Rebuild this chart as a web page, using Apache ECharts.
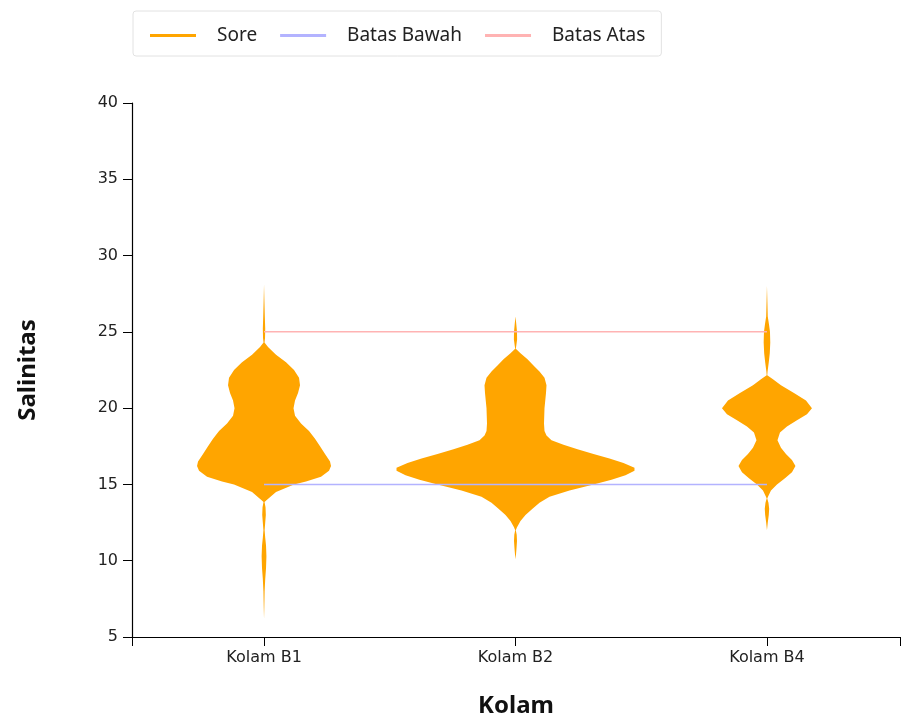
<!DOCTYPE html>
<html>
<head>
<meta charset="utf-8">
<script src="https://cdn.jsdelivr.net/npm/echarts@6/dist/echarts.min.js"></script>
<style>
  html, body { margin: 0; padding: 0; background: #fff; }
  #violin { width: 906px; height: 719px; }
</style>
</head>
<body>
<div id="violin"></div>
<script>
  'use strict'
  /*-----data-----*/
  var categories = ['Kolam B1', 'Kolam B2', 'Kolam B4'];
  var yTicks = [5, 10, 15, 20, 25, 30, 35, 40];

  // salinity levels and density (violin half-width) for each pond, "Sore"
  var b1Levels = [28.1, 27.0, 26.0, 25.2, 24.6, 24.3, 24.0, 23.5, 23.0, 22.5, 22.0, 21.5, 21.0, 20.5, 20.0, 19.5, 19.0, 18.5, 18.0, 17.5, 17.0, 16.5, 16.2, 15.9, 15.5, 15.2, 15.0, 14.5, 14.0, 13.85, 13.5, 13.0, 12.5, 12.0, 11.5, 11.0, 10.3, 9.5, 8.8, 8.0, 7.0, 6.2];
  var b1Density = [0, 0.4, 0.8, 1.2, 1.0, 0.5, 4, 12, 22, 30, 35, 36, 34, 31, 29.5, 31, 37, 45, 51, 56, 61, 66, 67, 65, 57, 42, 30, 12, 3, 0.5, 1.5, 1.8, 1.2, 0.6, 1.2, 2, 2.4, 2, 1.2, 0.6, 0.3, 0];

  var b2Levels = [26.0, 25.5, 25.0, 24.5, 24.1, 23.9, 23.6, 23.2, 22.8, 22.4, 22.0, 21.5, 21.0, 20.0, 19.0, 18.5, 18.2, 17.9, 17.6, 17.3, 17.0, 16.7, 16.4, 16.1, 15.9, 15.6, 15.3, 15.0, 14.6, 14.2, 13.8, 13.4, 13.0, 12.6, 12.2, 12.0, 11.7, 11.3, 10.8, 10.4, 10.1];
  var b2Density = [0, 0.8, 1.5, 1.6, 0.8, 0.3, 5, 12, 18, 24, 29, 31, 30.5, 29, 28.5, 29, 31, 36, 48, 62, 78, 94, 108, 119, 119, 110, 96, 78, 54, 34, 24, 17, 10, 5, 1.5, 0.3, 1.2, 1.5, 1.0, 0.5, 0];

  var b4Levels = [28.0, 27.0, 26.0, 25.5, 25.0, 24.3, 23.6, 23.0, 22.4, 22.15, 21.9, 21.5, 21.0, 20.5, 20.0, 19.6, 19.2, 18.8, 18.4, 17.9, 17.4, 17.0, 16.6, 16.2, 15.8, 15.4, 15.0, 14.6, 14.2, 14.08, 13.8, 13.4, 13.0, 12.5, 12.0];
  var b4Density = [0, 0.4, 0.8, 2, 3, 3.3, 2.8, 1.8, 0.6, 0.3, 6, 14, 27, 39, 45, 40, 30, 20, 13, 10.5, 14, 19, 25, 28.5, 25, 18, 10, 4, 1, 0.3, 1.5, 2.2, 1.8, 0.8, 0];

  var batasBawah = [15, 15];
  var batasAtas = [25, 25];

  var levels = [b1Levels, b2Levels, b4Levels];
  var density = [b1Density, b2Density, b4Density];
  var densityScale = 1 / 251.5; // density -> category units

  /*-----violin-----*/
  function renderViolin(params, api) {
    var idx = api.value(0);
    var ys = levels[idx];
    var ds = density[idx];
    var pts = [];
    for (var i = 0; i < ys.length; i++) {
      pts.push(api.coord([idx - ds[i] * densityScale, ys[i]]));
    }
    for (var j = ys.length - 1; j >= 0; j--) {
      pts.push(api.coord([idx + ds[j] * densityScale, ys[j]]));
    }
    return {
      type: 'polygon',
      shape: { points: pts },
      style: { fill: '#FFA500' }
    };
  }

  var option = {
    animation: false,
    legend: {
      left: 133,
      top: 11,
      padding: [15, 16, 11, 17],
      borderColor: '#e2e2e2',
      borderWidth: 1,
      borderRadius: 3,
      itemWidth: 46,
      itemHeight: 3,
      itemGap: 23,
      icon: 'rect',
      textStyle: {
        fontFamily: 'Noto Sans',
        fontSize: 19,
        color: '#222',
        padding: [0, 0, 0, 16]
      },
      data: ['Sore', 'Batas Bawah', 'Batas Atas']
    },
    grid: {
      left: 132,
      right: 6,
      top: 103,
      bottom: 82,
      outerBoundsMode: 'none'
    },
    xAxis: {
      type: 'value',
      min: -0.525,
      max: 2.529,
      name: 'Kolam',
      nameLocation: 'middle',
      nameGap: 57,
      nameTextStyle: {
        fontFamily: 'Noto Sans',
        fontWeight: 'bold',
        fontSize: 24,
        color: '#111'
      },
      axisLine: { onZero: false, lineStyle: { color: '#000', width: 1.2 } },
      axisTick: {
        show: true,
        length: 9,
        customValues: [-0.525, 0, 1, 2, 2.529],
        lineStyle: { color: '#000' }
      },
      axisLabel: {
        customValues: [0, 1, 2],
        fontFamily: 'DejaVu Sans',
        fontSize: 16,
        color: '#222',
        margin: 13,
        formatter: function (v) { return categories[Math.round(v)]; }
      },
      splitLine: { show: false }
    },
    yAxis: {
      type: 'value',
      min: yTicks[0],
      max: yTicks[yTicks.length - 1],
      interval: 5,
      name: 'Salinitas',
      nameLocation: 'middle',
      nameGap: 92,
      nameTextStyle: {
        fontFamily: 'Noto Sans',
        fontWeight: 'bold',
        fontSize: 24,
        color: '#111'
      },
      axisLine: { show: true, onZero: false, lineStyle: { color: '#000', width: 1.2 } },
      axisTick: { show: true, length: 9, lineStyle: { color: '#000' } },
      axisLabel: {
        fontFamily: 'DejaVu Sans',
        fontSize: 16,
        color: '#222',
        margin: 14
      },
      splitLine: { show: false }
    },
    series: [
      {
        name: 'Sore',
        type: 'custom',
        renderItem: renderViolin,
        itemStyle: { color: '#FFA500' },
        encode: { x: 0 },
        data: [[0], [1], [2]]
      },
      {
        name: 'Batas Bawah',
        type: 'line',
        symbol: 'none',
        itemStyle: { color: '#b3b3ff' },
        lineStyle: { color: '#b3b3ff', width: 1.5 },
        data: [[0, batasBawah[0]], [2, batasBawah[1]]]
      },
      {
        name: 'Batas Atas',
        type: 'line',
        symbol: 'none',
        itemStyle: { color: '#ffb3b3' },
        lineStyle: { color: '#ffb3b3', width: 1.5 },
        data: [[0, batasAtas[0]], [2, batasAtas[1]]]
      }
    ]
  };

  var chart = echarts.init(document.getElementById('violin'));
  chart.setOption(option);
</script>
</body>
</html>
